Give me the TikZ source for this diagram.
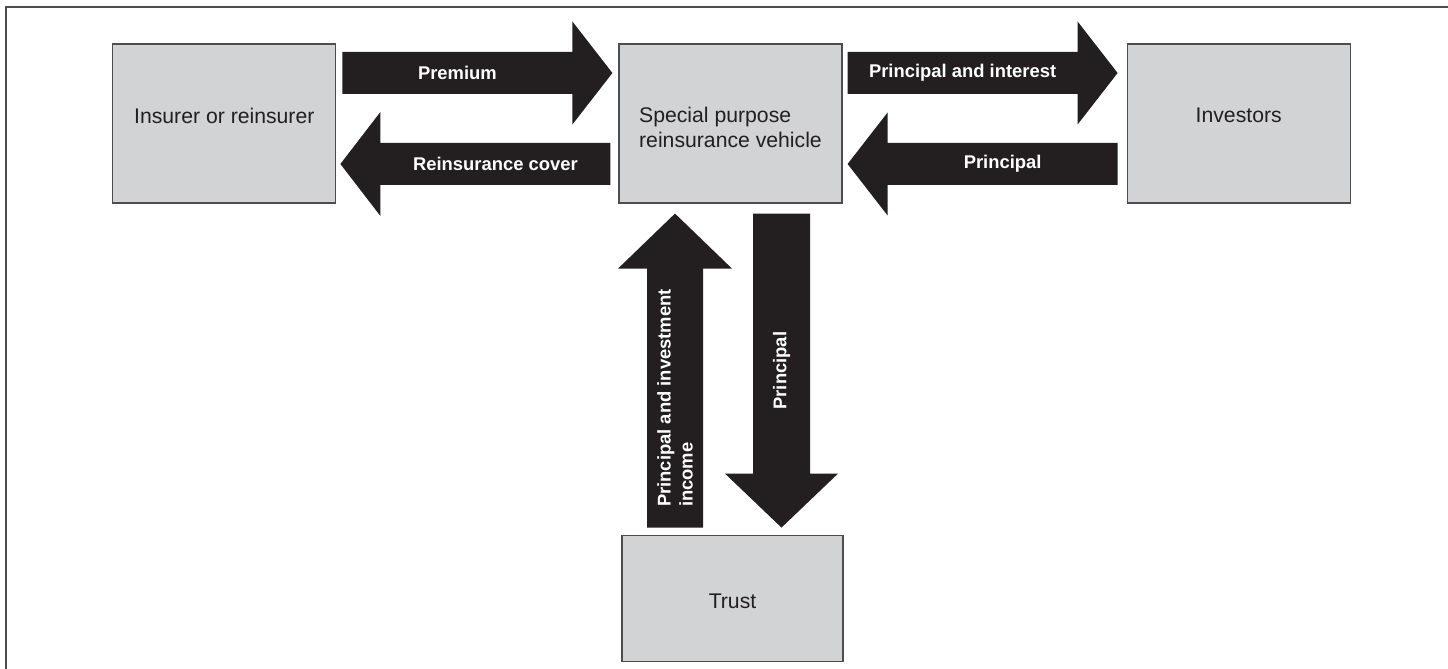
\documentclass[tikz,border=0pt]{standalone}
\usepackage{fontspec}
\setmainfont{Liberation Sans}
\usepackage{xcolor}
\usepackage{tikz}
\usetikzlibrary{calc}
\usetikzlibrary{positioning}

\definecolor{boxgray}{HTML}{D1D3D4}
\definecolor{inkdark}{HTML}{231F20}
\definecolor{edgegray}{HTML}{4D4D4F}

% block arrow from tail #2 to tip #3: half shaft #4, half head #5, head length #6, text #7
\newcommand{\fatarrow}[7][]{%
  \coordinate (#2-b) at ($(#3)!#6!(#2)$);
  \fill[flow] ($(#2)!#4!90:(#3)$) -- ($(#2-b)!#4!90:(#3)$) -- ($(#2-b)!#5!90:(#3)$) -- (#3)
    -- ($(#2-b)!#5!-90:(#3)$) -- ($(#2-b)!#4!-90:(#3)$) -- ($(#2)!#4!-90:(#3)$) -- cycle;
  \node[flowtext,#1] (#2-txt) at ($(#2)!0.5!(#2-b)$) {#7};
}

\begin{document}
\begin{tikzpicture}
        [x=1pt,y=1pt,
          every node/.style={font=\fontsize{21.2}{25}\selectfont,text=inkdark},
          box/.style={rectangle,draw=edgegray,line width=1.2pt,fill=boxgray,
            minimum width=223pt,minimum height=159pt,inner sep=0pt},
          every label/.style={align=left,inner sep=0pt},
          flow/.style={fill=inkdark},
          flowtext/.style={font=\fontsize{18.4}{22}\bfseries\selectfont,text=white,align=left,inner sep=0pt}]
        \useasboundingbox (0,0) rectangle (1448,669);
        \draw[edgegray,line width=1.5pt] (6,0) -- (6,662) -- (1448,662);

        \node[box,label={[yshift=-4]center:Special purpose\\reinsurance vehicle}] (spv) at (730.5,545.5) {};
        \node[box,left=282pt of spv,label={[yshift=8]center:Insurer or reinsurer}] (ins) {};
        \node[box,right=284pt of spv,label={[yshift=8]center:Investors}] (inv) {};
        \node[box,minimum width=221pt,minimum height=126pt,below=331pt of spv,xshift=2pt,
          label={[yshift=-3.5]center:Trust}] (trust) {};

        % ends of the flows
        \coordinate (premT) at ([shift={(6,50.5)}]ins.east);
        \coordinate (premH) at ([shift={(-6,50.5)}]spv.west);
        \coordinate (covT) at ([shift={(-8,-40.5)}]spv.west);
        \coordinate (covH) at ([shift={(4,-40.5)}]ins.east);
        \coordinate (piT) at ([shift={(5,50.5)}]spv.east);
        \coordinate (piH) at ([shift={(-9,50.5)}]inv.west);
        \coordinate (prT) at ([shift={(-9,-40.5)}]inv.west);
        \coordinate (prH) at ([shift={(5,-40.5)}]spv.east);
        \coordinate (upH) at ([shift={(-55.5,-10)}]spv.south);
        \coordinate (upT) at ($(upH |- trust.north)+(0,7)$);
        \coordinate (dnT) at ([shift={(51,-10)}]spv.south);
        \coordinate (dnH) at ($(dnT |- trust.north)+(0,7)$);

        \fatarrow{premT}{premH}{21pt}{51.5pt}{40pt}{Premium}
        \fatarrow{covT}{covH}{21pt}{52pt}{40pt}{Reinsurance cover}
        \fatarrow{piT}{piH}{21pt}{51.5pt}{40pt}{Principal and interest}
        \fatarrow{prT}{prH}{21pt}{51.5pt}{40pt}{Principal}
        \fatarrow[rotate=90]{upT}{upH}{28pt}{57pt}{55pt}{Principal and investment\\income}
        \fatarrow[yshift=-27,rotate=90]{dnT}{dnH}{28.5pt}{56.5pt}{54pt}{Principal}
      \end{tikzpicture}
\end{document}
